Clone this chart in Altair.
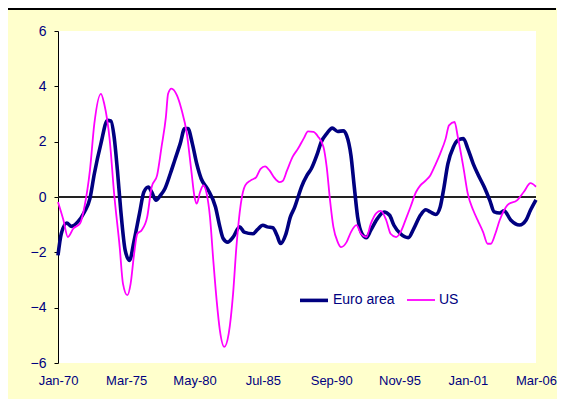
import altair as alt
import pandas as pd

# month offsets from Jan-1970 and values
euro_months = [0, 3, 8, 12, 18, 24, 29, 33, 39, 45, 48, 51, 54, 57, 61, 65, 69, 74, 78, 82,
               85, 89, 93, 97, 102, 106, 111, 115, 118, 122, 126, 130, 136, 143, 147, 150, 154, 159, 165, 169,
               177, 181, 186, 190, 195, 199, 202, 207, 211, 215, 218, 221, 226, 230, 235, 239, 244, 249, 254, 259,
               262, 266, 269, 272, 276, 280, 284, 290, 296, 301, 305, 311, 318, 323, 329, 334, 338, 343, 347, 350,
               354, 359, 363, 368, 372, 377, 381, 387, 392, 396, 401, 405, 411, 419, 425, 429, 434]
euro_values = [-2.11, -1.33, -0.94, -1.06, -0.9, -0.54, -0.06, 0.84, 1.93, 2.77,
               2.75, 2.17, 0.96, -0.48, -1.93, -2.29, -1.6, -0.6, 0.18, 0.36,
               0.18, -0.12, 0.06, 0.3, 0.84, 1.33, 1.93, 2.47, 2.47, 1.93,
               1.2, 0.66, 0.28, -0.36, -1.08, -1.5, -1.63, -1.45, -1.08, -1.27,
               -1.33, -1.18, -1.02, -1.08, -1.11, -1.4, -1.68, -1.33, -0.72, -0.36,
               0.0, 0.36, 0.78, 1.02, 1.51, 1.99, 2.29, 2.49, 2.37, 2.39,
               2.23, 1.5, 0.36, -0.72, -1.33, -1.47, -1.2, -0.78, -0.54, -0.66,
               -1.02, -1.33, -1.47, -1.14, -0.66, -0.46, -0.54, -0.63, -0.36, 0.24,
               1.2, 1.81, 2.05, 2.11, 1.75, 1.2, 0.84, 0.36, -0.12, -0.54,
               -0.58, -0.5, -0.83, -1.01, -0.83, -0.47, -0.1]

us_months = [0, 5, 9, 14, 20, 24, 29, 33, 39, 42, 47, 51, 56, 59, 63, 66, 69, 72, 76, 81,
             85, 90, 94, 98, 100, 103, 108, 112, 117, 121, 124, 126, 129, 132, 135, 138, 141, 144, 147, 151,
             155, 159, 162, 166, 170, 175, 180, 184, 188, 192, 196, 201, 204, 208, 213, 218, 223, 227, 232, 236,
             241, 244, 247, 250, 254, 257, 262, 266, 271, 275, 280, 284, 289, 293, 298, 302, 307, 311, 316, 320,
             325, 329, 334, 338, 343, 347, 352, 355, 360, 363, 368, 372, 377, 381, 386, 390, 393, 397, 401, 405,
             408, 417, 423, 429, 434]
us_values = [-0.18, -0.84, -1.45, -1.14, -0.96, -0.36, 0.96, 2.65, 3.73, 3.37,
             2.05, 0.12, -1.8, -3.13, -3.55, -3.13, -2.1, -1.33, -1.2, -0.72,
             0.36, 0.78, 1.81, 2.89, 3.73, 3.92, 3.67, 3.19, 2.29, 0.96,
             0.0, -0.24, 0.18, 0.42, 0.12, -0.72, -2.29, -3.73, -4.82, -5.42,
             -4.94, -3.49, -1.81, -0.24, 0.42, 0.6, 0.72, 1.02, 1.11, 0.96,
             0.72, 0.54, 0.58, 0.96, 1.45, 1.75, 2.11, 2.37, 2.35, 2.19,
             1.81, 1.08, -0.12, -1.08, -1.63, -1.81, -1.63, -1.27, -1.02, -1.33,
             -1.45, -0.96, -0.58, -0.5, -0.84, -1.33, -1.45, -1.27, -0.78, -0.36,
             0.18, 0.42, 0.6, 0.78, 1.2, 1.57, 2.11, 2.59, 2.71, 2.17,
             1.08, 0.12, -0.48, -0.84, -1.27, -1.69, -1.69, -1.33, -0.84, -0.48,
             -0.29, -0.11, 0.19, 0.5, 0.37]

tick_months = [0, 62, 124, 186, 248, 310, 372, 434]
y_ticks = [-6, -4, -2, 0, 2, 4, 6]
series_names = ["Euro area", "US"]
series_colors = ["#000080", "#FF00FF"]
series_widths = [3.6, 1.8]

NAVY = "#000080"
FONT = "Liberation Sans"


def mdate(m):
    return f"{1970 + m // 12}-{m % 12 + 1:02d}-01"


def mdt(m):
    return alt.DateTime(year=1970 + m // 12, month=m % 12 + 1, date=1, utc=True)


rows = [{"date": mdate(m), "value": v, "series": "Euro area"} for m, v in zip(euro_months, euro_values)]
rows += [{"date": mdate(m), "value": v, "series": "US"} for m, v in zip(us_months, us_values)]
df = pd.DataFrame(rows)

x = alt.X(
    "date:T",
    scale=alt.Scale(type="utc", domain=[mdt(tick_months[0]), mdt(tick_months[-1])]),
    axis=alt.Axis(
        values=[mdt(m) for m in tick_months],
        labelExpr="utcFormat(datum.value, '%b-%y')",
        title=None, domain=False, ticks=False, grid=False, labelPadding=11,
        labelFontSize=13, labelColor=NAVY, labelFont=FONT, labelFlush=False,
        labelOverlap=False,
    ),
)
y = alt.Y(
    "value:Q",
    scale=alt.Scale(domain=[-6, 6], nice=False, zero=False),
    axis=alt.Axis(
        values=y_ticks, title=None, grid=False, domainColor="black", domainWidth=1,
        tickColor="black", tickSize=4, labelPadding=8, labelFontSize=14,
        labelColor=NAVY, labelFont=FONT,
    ),
)

zero = alt.Chart(df).mark_rule(color="#222222", strokeWidth=1).encode(y=alt.datum(0))

lines = alt.Chart(df).mark_line(interpolate="monotone").encode(
    x=x,
    y=y,
    color=alt.Color("series:N", scale=alt.Scale(domain=series_names, range=series_colors), title=None),
    strokeWidth=alt.StrokeWidth("series:N", scale=alt.Scale(domain=series_names, range=series_widths), title=None),
    order=alt.Order("date:T"),
)

border = alt.Chart(df).mark_rule(color="black", strokeWidth=1.5, clip=False).encode(
    x=alt.value(-51), x2=alt.value(498), y=alt.value(-22)
)

chart = (
    alt.layer(zero, lines, border)
    .properties(
        width=478, height=332,
        autosize=alt.AutoSizeParams(type="none"),
        padding={"left": 50, "top": 23, "right": 21, "bottom": 36},
        background="#FFFFCC",
    )
    .configure_view(fill="white", strokeWidth=0)
    .configure_legend(
        orient="none", legendX=240, legendY=253, direction="horizontal",
        symbolType="stroke", symbolSize=784, labelFontSize=14, labelColor=NAVY,
        labelFont=FONT, columnPadding=8, labelOffset=3,
    )
)

chart.save("out.html", embed_options={"renderer": "svg", "actions": False})
